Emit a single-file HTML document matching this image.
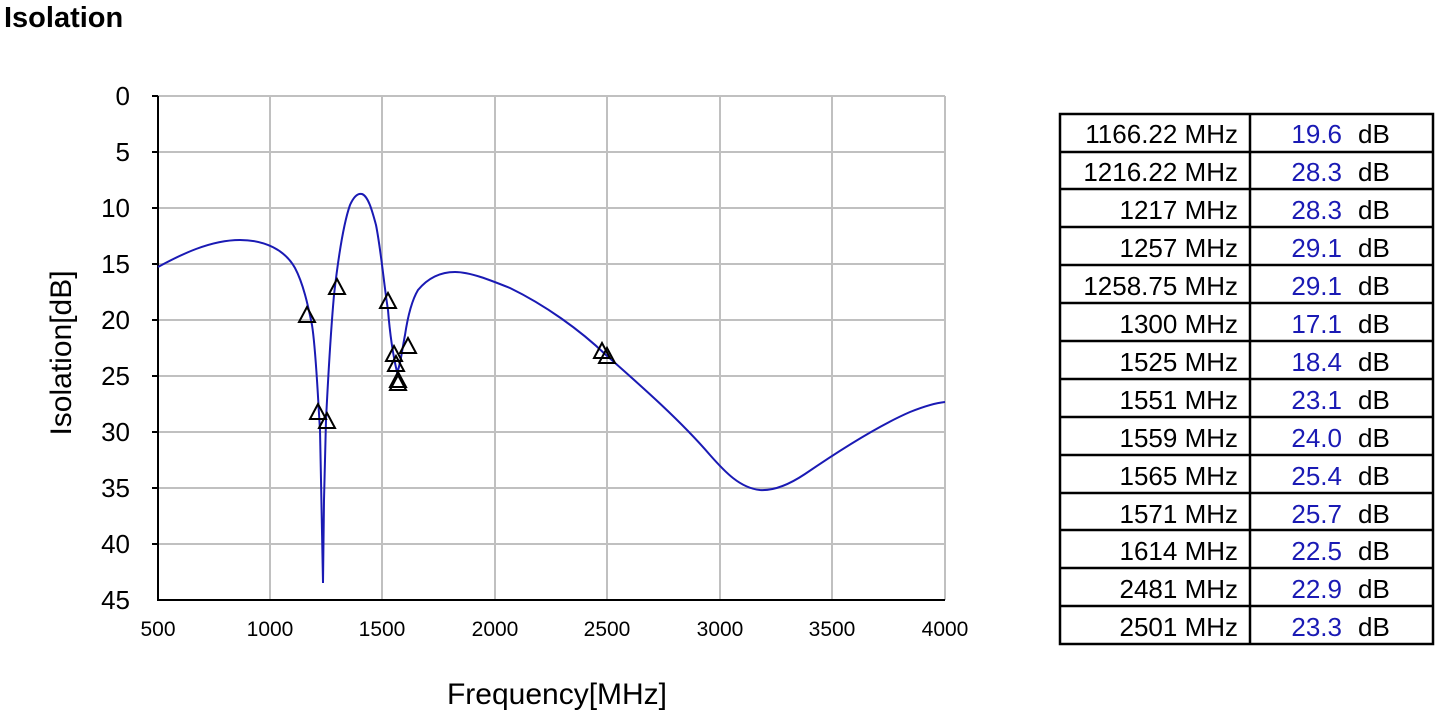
<!DOCTYPE html>
<html><head><meta charset="utf-8"><style>
body{margin:0;background:#fff;width:1440px;height:717px;overflow:hidden;font-family:"Liberation Sans",Arial,sans-serif}
</style></head><body>
<svg width="1440" height="717" xmlns="http://www.w3.org/2000/svg" font-family="Liberation Sans, Arial, sans-serif">
<text x="4" y="27" font-size="29" font-weight="bold">Isolation</text>
<g stroke="#c0c0c0" stroke-width="2">
<line x1="270" y1="96" x2="270" y2="600"/><line x1="382" y1="96" x2="382" y2="600"/><line x1="495" y1="96" x2="495" y2="600"/><line x1="607" y1="96" x2="607" y2="600"/><line x1="720" y1="96" x2="720" y2="600"/><line x1="832" y1="96" x2="832" y2="600"/><line x1="945" y1="96" x2="945" y2="600"/>
<line x1="158" y1="96" x2="945" y2="96"/><line x1="158" y1="152" x2="945" y2="152"/><line x1="158" y1="208" x2="945" y2="208"/><line x1="158" y1="264" x2="945" y2="264"/><line x1="158" y1="320" x2="945" y2="320"/><line x1="158" y1="376" x2="945" y2="376"/><line x1="158" y1="432" x2="945" y2="432"/><line x1="158" y1="488" x2="945" y2="488"/><line x1="158" y1="544" x2="945" y2="544"/>
</g>
<g stroke="#000" stroke-width="2">
<line x1="158" y1="96" x2="158" y2="601"/><line x1="157" y1="600" x2="945" y2="600"/>
<line x1="152" y1="96" x2="158" y2="96"/><line x1="152" y1="152" x2="158" y2="152"/><line x1="152" y1="208" x2="158" y2="208"/><line x1="152" y1="264" x2="158" y2="264"/><line x1="152" y1="320" x2="158" y2="320"/><line x1="152" y1="376" x2="158" y2="376"/><line x1="152" y1="432" x2="158" y2="432"/><line x1="152" y1="488" x2="158" y2="488"/><line x1="152" y1="544" x2="158" y2="544"/>
</g>
<g font-size="26" text-anchor="end">
<text x="130" y="105">0</text><text x="130" y="161">5</text><text x="130" y="217">10</text><text x="130" y="273">15</text><text x="130" y="329">20</text><text x="130" y="385">25</text><text x="130" y="441">30</text><text x="130" y="497">35</text><text x="130" y="553">40</text><text x="130" y="609">45</text>
</g>
<g font-size="21" text-anchor="middle">
<text x="158" y="636">500</text><text x="270" y="636">1000</text><text x="382" y="636">1500</text><text x="495" y="636">2000</text><text x="607" y="636">2500</text><text x="720" y="636">3000</text><text x="832" y="636">3500</text><text x="945" y="636">4000</text>
</g>
<text x="557" y="704" font-size="30" text-anchor="middle">Frequency[MHz]</text>
<text transform="translate(71,353) rotate(-90)" font-size="30" text-anchor="middle">Isolation[dB]</text>
<path fill="none" stroke="#1a1ab4" stroke-width="2" d="M158,267 C180,255 210,240 240,240 C265,240 285,250 295,268 C303,283 308,305 312,325 C316,350 318,400 320,430 L321,480 L323,583 L324,500 L326,420 C328,380 330,340 334,295 C338,260 343,225 350,205 C354,196 358,193 362,194 C368,196 372,210 376,225 C381,250 384,285 388,310 C390,335 393,355 397,372 C400,368 402,350 405,335 C408,315 412,300 418,290 C428,278 440,272 455,272 C470,272 490,280 510,288 C545,305 580,330 606,355 C640,385 680,420 710,455 C725,472 740,488 760,490 C775,491 790,484 805,474 C840,450 880,425 910,412 C925,406 935,403 945,402"/>
<g fill="none" stroke="#000" stroke-width="2">
<path d="M307,307 l-8,15 h16 z"/><path d="M318,404 l-8,15 h16 z"/><path d="M327,413 l-8,15 h16 z"/><path d="M337,279 l-8,15 h16 z"/><path d="M388,293 l-8,15 h16 z"/><path d="M394,346 l-8,15 h16 z"/><path d="M396,356 l-8,15 h16 z"/><path d="M398,372 l-8,15 h16 z"/><path d="M398,375 l-8,15 h16 z"/><path d="M408,338 l-8,15 h16 z"/><path d="M602,343 l-8,15 h16 z"/><path d="M607,348 l-8,15 h16 z"/>
</g>
<g stroke="#000" stroke-width="2.5" fill="none">
<rect x="1060" y="114" width="373" height="530"/>
<line x1="1250" y1="114" x2="1250" y2="644"/>
<line x1="1060" y1="152" x2="1433" y2="152"/><line x1="1060" y1="189" x2="1433" y2="189"/><line x1="1060" y1="227" x2="1433" y2="227"/><line x1="1060" y1="265" x2="1433" y2="265"/><line x1="1060" y1="303" x2="1433" y2="303"/><line x1="1060" y1="341" x2="1433" y2="341"/><line x1="1060" y1="379" x2="1433" y2="379"/><line x1="1060" y1="417" x2="1433" y2="417"/><line x1="1060" y1="455" x2="1433" y2="455"/><line x1="1060" y1="493" x2="1433" y2="493"/><line x1="1060" y1="530" x2="1433" y2="530"/><line x1="1060" y1="568" x2="1433" y2="568"/><line x1="1060" y1="606" x2="1433" y2="606"/>
</g>
<g font-size="26">
<g text-anchor="end">
<text x="1238" y="143">1166.22 MHz</text><text x="1238" y="181">1216.22 MHz</text><text x="1238" y="219">1217 MHz</text><text x="1238" y="257">1257 MHz</text><text x="1238" y="295">1258.75 MHz</text><text x="1238" y="333">1300 MHz</text><text x="1238" y="371">1525 MHz</text><text x="1238" y="409">1551 MHz</text><text x="1238" y="447">1559 MHz</text><text x="1238" y="485">1565 MHz</text><text x="1238" y="523">1571 MHz</text><text x="1238" y="560">1614 MHz</text><text x="1238" y="598">2481 MHz</text><text x="1238" y="636">2501 MHz</text>
</g>
<g text-anchor="end" fill="#1a1ab4">
<text x="1342" y="143">19.6</text><text x="1342" y="181">28.3</text><text x="1342" y="219">28.3</text><text x="1342" y="257">29.1</text><text x="1342" y="295">29.1</text><text x="1342" y="333">17.1</text><text x="1342" y="371">18.4</text><text x="1342" y="409">23.1</text><text x="1342" y="447">24.0</text><text x="1342" y="485">25.4</text><text x="1342" y="523">25.7</text><text x="1342" y="560">22.5</text><text x="1342" y="598">22.9</text><text x="1342" y="636">23.3</text>
</g>
<g>
<text x="1358" y="143">dB</text><text x="1358" y="181">dB</text><text x="1358" y="219">dB</text><text x="1358" y="257">dB</text><text x="1358" y="295">dB</text><text x="1358" y="333">dB</text><text x="1358" y="371">dB</text><text x="1358" y="409">dB</text><text x="1358" y="447">dB</text><text x="1358" y="485">dB</text><text x="1358" y="523">dB</text><text x="1358" y="560">dB</text><text x="1358" y="598">dB</text><text x="1358" y="636">dB</text>
</g>
</g>
</svg>
</body></html>
